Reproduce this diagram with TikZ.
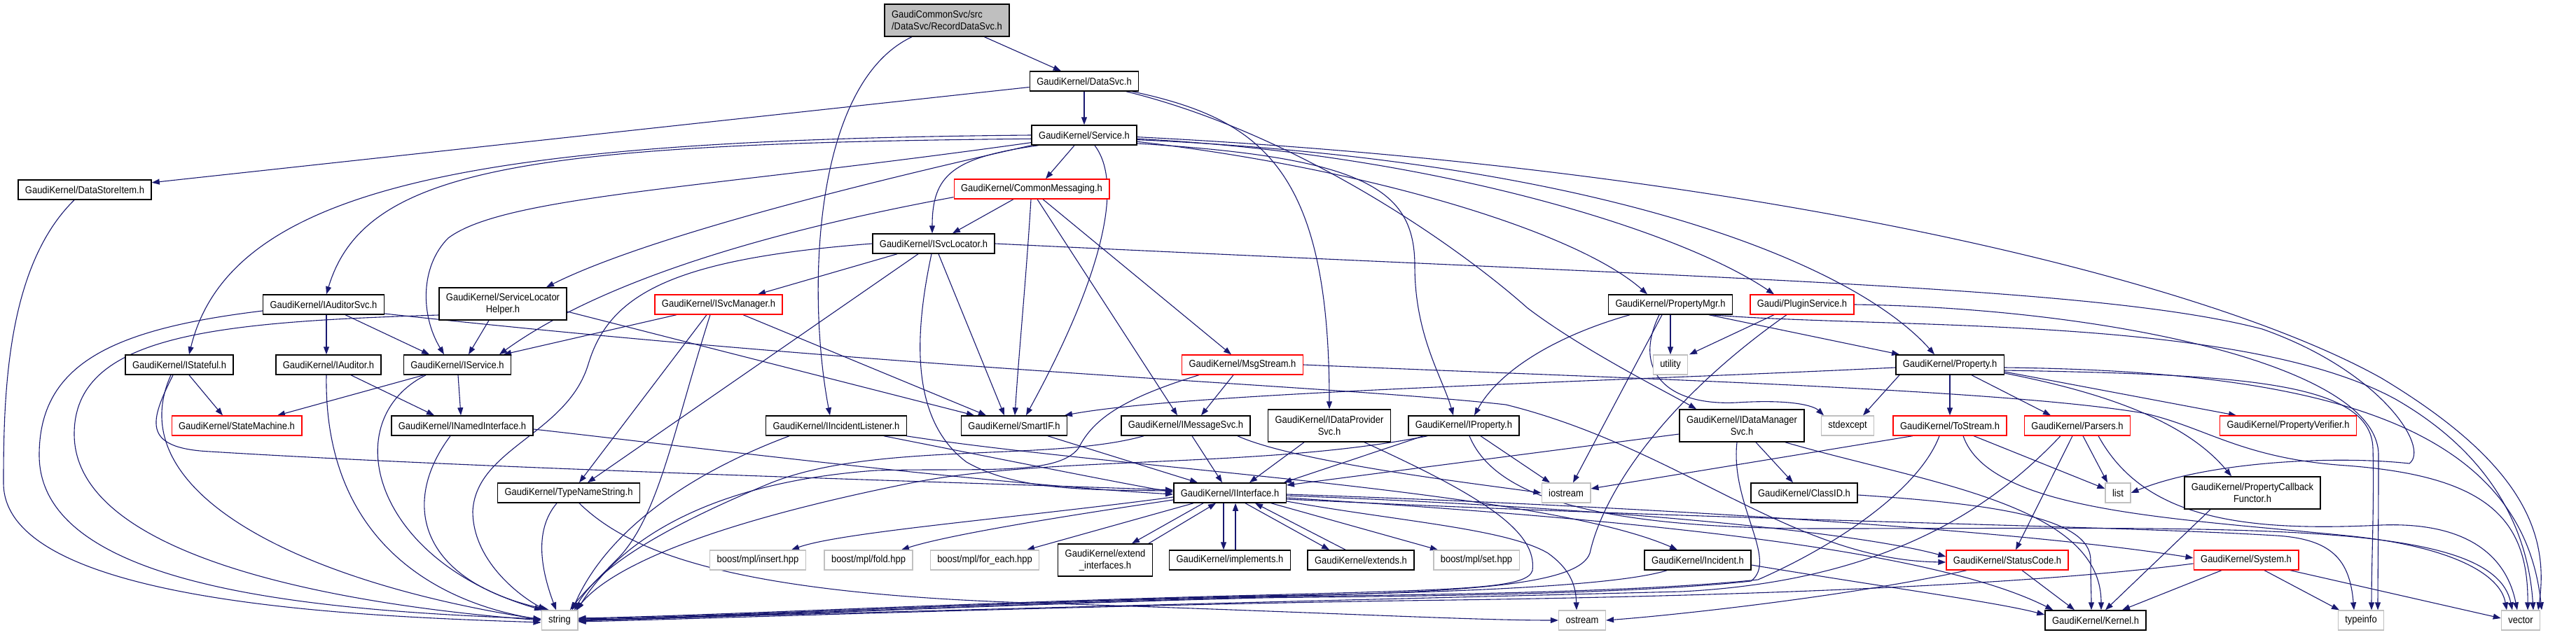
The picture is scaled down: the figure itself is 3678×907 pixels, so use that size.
\documentclass[tikz,border=0pt]{standalone}
\usepackage{fontspec}
\setmainfont[FakeStretch=0.9]{Liberation Sans}
\usepackage{tikz}
\usetikzlibrary{arrows.meta,backgrounds}
\definecolor{edgeblue}{HTML}{191970}
\definecolor{rootgray}{HTML}{BFBFBF}
\definecolor{sysgray}{HTML}{C0C0C0}
\newcommand{\doxyfont}{\fontsize{14.4}{17}\selectfont}
\tikzset{node distance=86pt,
  hdr/.style={draw=black, fill=white, line width=1.5pt, inner xsep=10pt, inner ysep=3pt, minimum height=28pt, font=\doxyfont},
  hdrred/.style={hdr, draw=red, line width=1.3pt},
  hdrsys/.style={hdr, draw=sysgray, line width=1.3pt},
  hdrroot/.style={hdr, fill=rootgray, align=left, minimum height=46pt},
  hdrtwo/.style={align=center, minimum height=46pt},
  dep/.style={->, draw=edgeblue, line width=1.1pt}}

\begin{document}
\begin{tikzpicture}[x=1pt, y=-1pt, >={Triangle[length=11pt,width=8pt]}]
		\useasboundingbox (0,0) rectangle (3678,907);
		\node[hdrroot](rds) at (1352,29){GaudiCommonSvc/src\\/DataSvc/RecordDataSvc.h};
		\node[hdr](dsvc) at (1548,116){GaudiKernel/DataSvc.h};
		\node[hdr](svc)[below of=dsvc, node distance=77pt]{GaudiKernel/Service.h};
		\node[hdr](dsi) at (121,271){GaudiKernel/DataStoreItem.h};
		\node[hdrred](cmsg) at (1473,270){GaudiKernel/CommonMessaging.h};
		\node[hdr](isl) at (1333,348){GaudiKernel/ISvcLocator.h};
		\node[hdr](ias) at (462,435){GaudiKernel/IAuditorSvc.h};
		\node[hdr, hdrtwo](slh) at (718,434){GaudiKernel/ServiceLocator\\Helper.h};
		\node[hdrred](ism) at (1026,435){GaudiKernel/ISvcManager.h};
		\node[hdr](pmgr) at (2385,435){GaudiKernel/PropertyMgr.h};
		\node[hdrred](plug) at (2573,435){Gaudi/PluginService.h};
		\node[hdr](ist) at (256,521){GaudiKernel/IStateful.h};
		\node[hdr](iaud) at (469,521){GaudiKernel/IAuditor.h};
		\node[hdr](isvc) at (653,521){GaudiKernel/IService.h};
		\node[hdrred](msgs) at (1774,521){GaudiKernel/MsgStream.h};
		\node[hdrsys](util)[below of=pmgr]{utility};
		\node[hdr](prop) at (2784,521){GaudiKernel/Property.h};
		\node[hdrred](smach) at (338,608){GaudiKernel/StateMachine.h};
		\node[hdr](inamed) at (660,608){GaudiKernel/INamedInterface.h};
		\node[hdr](iil) at (1194,608){GaudiKernel/IIncidentListener.h};
		\node[hdr](smart) at (1448,608){GaudiKernel/SmartIF.h};
		\node[hdr](imsg) at (1693,608){GaudiKernel/IMessageSvc.h};
		\node[hdr, hdrtwo](idp) at (1898,608){GaudiKernel/IDataProvider\\Svc.h};
		\node[hdr](iprop) at (2090,608){GaudiKernel/IProperty.h};
		\node[hdr, hdrtwo](idm) at (2487,608){GaudiKernel/IDataManager\\Svc.h};
		\node[hdrsys](stdex) at (2638,608){stdexcept};
		\node[hdrred](tostr)[below of=prop, node distance=87pt]{GaudiKernel/ToStream.h};
		\node[hdrred](pars) at (2966,608){GaudiKernel/Parsers.h};
		\node[hdrred](pver) at (3267,608){GaudiKernel/PropertyVerifier.h};
		\node[hdr](tns) at (812,704){GaudiKernel/TypeNameString.h};
		\node[hdr](iint) at (1756,704){GaudiKernel/IInterface.h};
		\node[hdrsys](iostr) at (2236,704){iostream};
		\node[hdr](clsid) at (2576,704){GaudiKernel/ClassID.h};
		\node[hdrsys](list) at (3024,704){list};
		\node[hdr, hdrtwo](pcf) at (3216,704){GaudiKernel/PropertyCallback\\Functor.h};
		\node[hdrsys](bins) at (1082,800){boost/mpl/insert.hpp};
		\node[hdrsys](bfold) at (1240,800){boost/mpl/fold.hpp};
		\node[hdrsys](bfe) at (1406,800){boost/mpl/for\_each.hpp};
		\node[hdr, hdrtwo](extif) at (1578,800){GaudiKernel/extend\\\_interfaces.h};
		\node[hdr](impl)[below of=iint, node distance=96pt]{GaudiKernel/implements.h};
		\node[hdr](ext) at (1943,800){GaudiKernel/extends.h};
		\node[hdrsys](bset) at (2108,800){boost/mpl/set.hpp};
		\node[hdr](incid) at (2424,800){GaudiKernel/Incident.h};
		\node[hdrred](stcode) at (2866,800){GaudiKernel/StatusCode.h};
		\node[hdrred](sys) at (3207,800){GaudiKernel/System.h};
		\node[hdrsys](str) at (799,886){string};
		\node[hdrsys](ostr) at (2259,886){ostream};
		\node[hdr](kern) at (2992,886){GaudiKernel/Kernel.h};
		\node[hdrsys](tinfo) at (3371,886){typeinfo};
		\node[hdrsys](vec) at (3599,886){vector};
		\begin{pgfonlayer}{background}
		\draw[dep](rds) -- (dsvc);
		\draw[dep](rds) .. controls (1160,120) and (1152,420) .. ([xshift=-9pt]iil.north);
		\draw[dep](dsvc) -- (svc);
		\draw[dep](dsvc) -- (dsi);
		\draw[dep](dsvc) .. controls (1800,170) and (1898,240) .. (idp);
		\draw[dep](dsvc) .. controls (1850,190) and (2080,350) .. (2181,440) .. controls (2260,500) and (2380,560) .. ([xshift=-65pt]idm.north);
		\draw[dep](svc.180) .. controls (700,200) and (330,260) .. ([xshift=14pt]ist.north);
		\draw[dep](svc.184) .. controls (750,205) and (520,240) .. ([xshift=4pt]ias.north);
		\draw[dep](svc.188) .. controls (1000,270) and (720,280) .. (640,340) .. controls (600,380) and (600,450) .. ([xshift=-19pt]isvc.north);
		\draw[dep](svc.191) .. controls (1150,280) and (900,350) .. ([xshift=62pt]slh.north);
		\draw[dep]([xshift=10pt]svc.south west) .. controls (1360,225) and (1331,250) .. ([xshift=-2pt]isl.north);
		\draw[dep]([xshift=-14pt]svc.south) -- ([xshift=20pt]cmsg.north);
		\draw[dep]([xshift=15pt]svc.south) .. controls (1610,270) and (1560,420) .. ([xshift=17pt]smart.north);
		\draw[dep](svc.-7) .. controls (1950,240) and (2250,330) .. ([xshift=-33pt]pmgr.north);
		\draw[dep](svc.-4) .. controls (2050,220) and (2400,330) .. ([xshift=-40pt]plug.north);
		\draw[dep](svc.-9) .. controls (1950,225) and (2020,270) .. (2020,380) .. controls (2020,480) and (2060,540) .. ([xshift=-15pt]iprop.north);
		\draw[dep](svc.-5) .. controls (2300,230) and (2650,380) .. ([xshift=-22pt]prop.north);
		\draw[dep](svc.-2) .. controls (2500,240) and (3150,400) .. (3400,540) .. controls (3600,660) and (3640,760) .. ([xshift=25pt]vec.north);
		\draw[dep]([yshift=3pt]cmsg.south west) .. controls (1100,330) and (860,400) .. ([xshift=60pt]isvc.north);
		\draw[dep]([xshift=-26pt]cmsg.south) -- ([xshift=27pt]isl.north);
		\draw[dep]([xshift=-1pt]cmsg.south) .. controls (1465,400) and (1455,500) .. ([xshift=1pt]smart.north);
		\draw[dep]([xshift=8pt]cmsg.south) -- ([xshift=-12pt]imsg.north);
		\draw[dep]([xshift=16pt]cmsg.south) -- ([xshift=-16pt]msgs.north);
		\draw[dep]([xshift=-52pt]isl.south) -- ([xshift=56pt]ism.north);
		\draw[dep](isl.west) .. controls (960,370) and (870,420) .. (840,520) .. controls (810,620) and (680,640) .. (675,730) .. controls (675,800) and (740,850) .. ([xshift=-20pt]str.north);
		\draw[dep]([xshift=-22pt]isl.south) -- ([xshift=27pt]tns.north);
		\draw[dep]([xshift=-3pt]isl.south) .. controls (1305,480) and (1300,600) .. (1380,660) .. controls (1450,700) and (1550,700) .. ([yshift=3pt]iint.west);
		\draw[dep]([xshift=7pt]isl.south) -- ([xshift=-14pt]smart.north);
		\draw[dep](isl.east) .. controls (2500,400) and (3000,410) .. (3230,470) .. controls (3400,530) and (3470,640) .. (3440,662) .. controls (3330,650) and (3150,660) .. (list.east);
		\draw[dep]([xshift=-60pt]ism.south) -- ([xshift=66pt]isvc.north);
		\draw[dep]([xshift=-17pt]ism.south) -- ([xshift=15pt]tns.north);
		\draw[dep]([xshift=-12pt]ism.south) .. controls (960,620) and (940,740) .. (880,800) .. controls (850,830) and (830,850) .. ([xshift=15pt]str.north);
		\draw[dep]([xshift=35pt]ism.south) -- ([xshift=-40pt]smart.north);
		\draw[dep]([xshift=-20pt]slh.south) -- ([xshift=16pt]isvc.north);
		\draw[dep]([yshift=-11pt]slh.east) -- ([xshift=-57pt]smart.north);
		\draw[dep]([yshift=-16pt]slh.west) .. controls (300,460) and (106,480) .. (106,620) .. controls (106,800) and (500,865) .. (str.west);
		\draw[dep]([xshift=4pt]ias.south) -- ([xshift=-3pt]iaud.north);
		\draw[dep]([xshift=31pt]ias.south) -- ([xshift=-40pt]isvc.north);
		\draw[dep]([yshift=-9pt]ias.west) .. controls (160,470) and (56,520) .. (56,650) .. controls (56,840) and (450,872) .. ([yshift=2pt]str.west);
		\draw[dep]([yshift=-13pt]ias.east) .. controls (1300,530) and (1900,550) .. (2150,578) .. controls (2400,640) and (2560,800) .. ([yshift=-3pt]stcode.west);
		\draw[dep](dsi) .. controls (10,380) and (5,560) .. (5,690) .. controls (5,860) and (500,880) .. ([yshift=-3pt]str.west);
		\draw[dep]([xshift=14pt]ist.south) -- ([xshift=-20pt]smach.north);
		\draw[dep]([xshift=-12pt]ist.south) .. controls (170,700) and (420,830) .. ([yshift=1pt]str.west);
		\draw[dep]([xshift=-9pt]ist.south) .. controls (215,600) and (200,640) .. (300,645) .. controls (700,670) and (1400,690) .. ([yshift=4pt]iint.west);
		\draw[dep]([xshift=32pt]iaud.south) -- ([xshift=-40pt]inamed.north);
		\draw[dep]([xshift=-3pt]iaud.south) .. controls (462,770) and (620,860) .. ([yshift=1pt]str.west);
		\draw[dep]([xshift=-48pt]isvc.south) -- ([xshift=58pt]smach.north);
		\draw[dep]([xshift=-45pt]isvc.south) .. controls (480,600) and (530,800) .. ([xshift=-25pt]str.north);
		\draw[dep]([xshift=1pt]isvc.south) -- ([xshift=-2pt]inamed.north);
		\draw[dep]([yshift=-5pt]inamed.east) .. controls (1000,640) and (1400,690) .. ([yshift=-2pt]iint.west);
		\draw[dep]([xshift=-17pt]inamed.south) .. controls (570,720) and (600,830) .. ([xshift=-15pt]str.north);
		\draw[dep]([xshift=-17pt]tns.south) .. controls (760,760) and (775,820) .. ([xshift=-5pt]str.north);
		\draw[dep]([xshift=15pt]tns.south) .. controls (900,790) and (1050,850) .. (1500,862) .. controls (1900,875) and (2100,886) .. (ostr.west);
		\draw[dep]([xshift=68pt]iil.south) .. controls (1450,660) and (1600,690) .. ([yshift=1pt]iint.west);
		\draw[dep]([xshift=100pt]iil.south) .. controls (1600,670) and (2200,700) .. ([xshift=-29pt]incid.north);
		\draw[dep]([xshift=-67pt]iil.south) .. controls (1000,670) and (870,750) .. ([xshift=18pt]str.north);
		\draw[dep]([xshift=48pt]smart.south) -- ([xshift=-46pt]iint.north);
		\draw[dep]([xshift=9pt]imsg.south) -- ([xshift=-11pt]iint.north);
		\draw[dep]([xshift=-60pt]imsg.south) .. controls (1500,660) and (1250,630) .. (1100,690) .. controls (980,740) and (860,800) .. ([xshift=21pt]str.north);
		\draw[dep]([xshift=74pt]imsg.south) .. controls (1850,660) and (2100,690) .. (iostr.west);
		\draw[dep]([xshift=-13pt]msgs.south) -- ([xshift=22pt]imsg.north);
		\draw[dep]([xshift=-62pt]msgs.south) .. controls (1600,570) and (1560,600) .. (1540,640) .. controls (1510,680) and (1400,668) .. (1250,672) .. controls (1000,690) and (880,780) .. ([xshift=25pt]str.north);
		\draw[dep](msgs.east) .. controls (2300,540) and (2850,555) .. (3060,590) .. controls (3150,610) and (3200,655) .. (3350,665) .. controls (3550,680) and (3610,740) .. ([xshift=10pt]vec.north);
		\draw[dep]([xshift=-36pt]idp.south) -- ([xshift=28pt]iint.north);
		\draw[dep]([xshift=50pt]idp.south) .. controls (2120,710) and (2195,760) .. (2188,815) .. controls (2180,840) and (2100,842) .. (1800,850) .. controls (1400,860) and (1000,880) .. ([yshift=3pt]str.east);
		\draw[dep]([xshift=-58pt]iprop.south) -- ([xshift=-4pt]iint.north east);
		\draw[dep]([xshift=-52pt]iprop.south) .. controls (1800,670) and (1500,650) .. (1300,690) .. controls (1050,740) and (880,800) .. ([xshift=23pt]str.north);
		\draw[dep]([xshift=24pt]iprop.south) -- ([xshift=-23pt]iostr.north);
		\draw[dep]([xshift=8pt]iprop.south) .. controls (2130,700) and (2250,755) .. (2600,755) .. controls (3200,755) and (3560,740) .. ([xshift=-12pt]vec.north);
		\draw[dep]([xshift=-58pt]pmgr.south) .. controls (2220,480) and (2140,530) .. ([xshift=15pt]iprop.north);
		\draw[dep](pmgr) -- (util);
		\draw[dep]([xshift=55pt]pmgr.south) -- ([xshift=6pt]prop.north west);
		\draw[dep]([xshift=-12pt]pmgr.south) -- ([xshift=10pt]iostr.north);
		\draw[dep]([xshift=-16pt]pmgr.south) .. controls (2330,530) and (2380,580) .. (2480,575) .. controls (2560,570) and (2590,580) .. ([xshift=-34pt]stdex.north);
		\draw[dep]([xshift=58pt]pmgr.south) .. controls (2700,470) and (3200,450) .. (3420,570) .. controls (3560,650) and (3610,760) .. ([xshift=18pt]vec.north);
		\draw[dep]([xshift=-40pt]plug.south) -- ([xshift=27pt]util.north);
		\draw[dep]([xshift=-22pt]plug.south) .. controls (2380,570) and (2290,700) .. (2270,790) .. controls (2255,835) and (2100,846) .. (1800,852) .. controls (1400,862) and (1000,881) .. ([yshift=2pt]str.east);
		\draw[dep](plug.east) .. controls (3000,440) and (3396,520) .. (3396,650) .. controls (3396,760) and (3395,820) .. ([xshift=24pt]tinfo.north);
		\draw[dep]([yshift=-4pt]prop.west) .. controls (2300,545) and (1700,560) .. ([xshift=72pt]smart.north);
		\draw[dep](prop) -- (tostr);
		\draw[dep]([xshift=31pt]prop.south) -- ([xshift=-38pt]pars.north);
		\draw[dep]([yshift=-10pt]prop.east) -- ([xshift=-74pt]pver.north);
		\draw[dep]([yshift=-12pt]prop.east) .. controls (3000,560) and (3120,600) .. ([xshift=-30pt]pcf.north);
		\draw[dep]([xshift=-72pt]prop.south) -- ([xshift=22pt]stdex.north);
		\draw[dep]([yshift=-4pt]prop.east) .. controls (3300,530) and (3600,600) .. ([xshift=30pt]vec.north);
		\draw[dep]([yshift=-8pt]prop.east) .. controls (3200,535) and (3385,545) .. (3388,640) .. controls (3390,720) and (3386,800) .. ([xshift=15pt]tinfo.north);
		\draw[dep]([xshift=-53pt]tostr.south) -- ([yshift=6pt]iostr.east);
		\draw[dep]([xshift=-15pt]tostr.south) .. controls (2740,700) and (2620,780) .. (2510,828) .. controls (2300,850) and (1900,850) .. (1800,853) .. controls (1400,864) and (1000,883) .. ([yshift=1pt]str.east);
		\draw[dep]([xshift=34pt]tostr.south) -- ([yshift=6pt]list.west);
		\draw[dep]([xshift=19pt]tostr.south) .. controls (2840,730) and (3100,740) .. (3350,765) .. controls (3500,780) and (3570,820) .. ([xshift=-20pt]vec.north);
		\draw[dep]([xshift=8pt]pars.south) -- ([xshift=-15pt]list.north);
		\draw[dep]([xshift=-7pt]pars.south) -- ([xshift=12pt]stcode.north);
		\draw[dep]([xshift=-24pt]pars.south) .. controls (2850,720) and (2700,830) .. (2400,845) .. controls (2000,855) and (1000,880) .. ([yshift=-1pt]str.east);
		\draw[dep]([xshift=30pt]pars.south) .. controls (3060,740) and (3200,760) .. (3400,750) .. controls (3530,745) and (3580,800) .. ([xshift=-5pt]vec.north);
		\draw[dep]([xshift=-60pt]pcf.south) -- ([xshift=14pt]kern.north);
		\draw[dep]([xshift=21pt]stcode.south) -- ([xshift=-30pt]kern.north);
		\draw[dep]([xshift=-58pt]stcode.south) .. controls (2650,850) and (2400,878) .. (ostr.east);
		\draw[dep]([xshift=-35pt]sys.south) -- ([xshift=38pt]kern.north);
		\draw[dep]([xshift=26pt]sys.south) -- ([xshift=-31pt]tinfo.north);
		\draw[dep]([xshift=63pt]sys.south) -- ([yshift=3pt]vec.west);
		\draw[dep]([yshift=-5pt]sys.west) .. controls (2900,835) and (2500,852) .. (2000,858) .. controls (1500,866) and (1000,884) .. ([yshift=-2pt]str.east);
		\draw[dep]([xshift=-44pt]incid.south) .. controls (2300,840) and (2000,848) .. (1800,851) .. controls (1400,861) and (1000,882) .. (str.east);
		\draw[dep]([yshift=-7pt]incid.east) .. controls (2700,840) and (2850,860) .. ([yshift=8pt]kern.west);
		\draw[dep]([yshift=-12pt]idm.west) -- ([yshift=11pt]iint.east);
		\draw[dep]([xshift=20pt]idm.south) -- ([xshift=-16pt]clsid.north);
		\draw[dep]([xshift=-7pt]idm.south) .. controls (2470,720) and (2540,800) .. (2500,830) .. controls (2300,852) and (1900,852) .. (1800,854) .. controls (1400,864) and (1000,884) .. (str.east);
		\draw[dep]([xshift=62pt]idm.south) .. controls (2750,690) and (3000,720) .. ([xshift=8pt]kern.north);
		\draw[dep]([yshift=-3pt]clsid.east) .. controls (2850,720) and (2985,740) .. (2985,800) .. controls (2985,830) and (2986,850) .. ([xshift=-6pt]kern.north);
		\draw[dep]([yshift=-6pt]iint.west) .. controls (1450,740) and (1200,760) .. ([xshift=48pt]bins.north);
		\draw[dep]([yshift=-10pt]iint.west) .. controls (1500,740) and (1350,765) .. ([xshift=47pt]bfold.north);
		\draw[dep]([xshift=-52pt]iint.south) -- ([xshift=60pt]bfe.north);
		\draw[dep]([xshift=-38pt]iint.south) -- ([xshift=38pt]extif.north);
		\draw[dep]([xshift=62pt]extif.north) -- ([xshift=-20pt]iint.south);
		\draw[dep]([xshift=-9pt]iint.south) -- ([xshift=-9pt]impl.north);
		\draw[dep]([xshift=8pt]impl.north) -- ([xshift=8pt]iint.south);
		\draw[dep]([xshift=22pt]iint.south) -- ([xshift=-45pt]ext.north);
		\draw[dep]([xshift=-22pt]ext.north) -- ([xshift=36pt]iint.south);
		\draw[dep]([xshift=59pt]iint.south) -- ([xshift=-55pt]bset.north);
		\draw[dep]([yshift=-12pt]iint.east) .. controls (2000,745) and (2150,755) .. (2210,790) .. controls (2245,815) and (2250,840) .. ([xshift=-8pt]ostr.north);
		\draw[dep]([yshift=-4pt]iint.east) .. controls (2300,725) and (2650,760) .. ([yshift=5pt]stcode.west);
		\draw[dep]([yshift=-7pt]iint.east) .. controls (2300,740) and (2750,780) .. ([xshift=12pt]kern.north west);
		\draw[dep]([yshift=-2pt]iint.east) .. controls (2400,725) and (2900,760) .. ([yshift=3pt]sys.west);
		\draw[dep]([yshift=-9pt]iint.east) .. controls (2500,745) and (3000,750) .. (3250,765) .. controls (3330,770) and (3355,800) .. ([xshift=-10pt]tinfo.north);
		\end{pgfonlayer}
	\end{tikzpicture}
\end{document}
